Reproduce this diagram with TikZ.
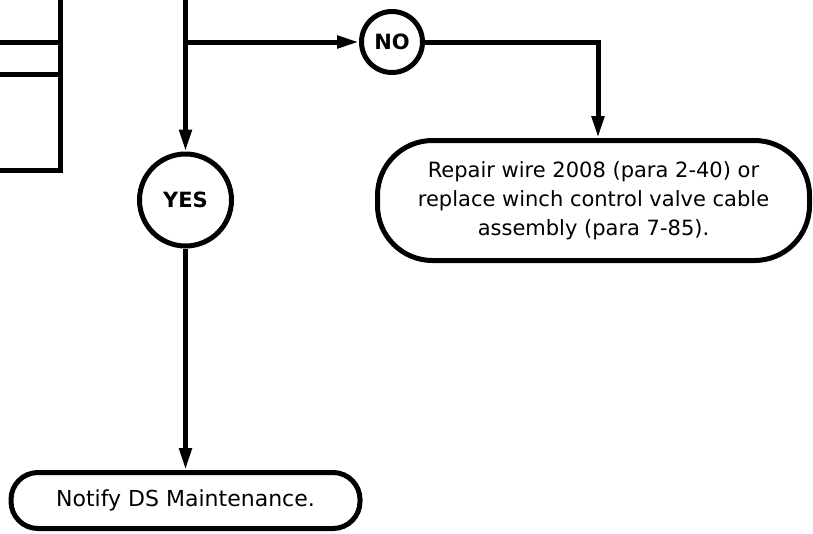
\documentclass[tikz,border=0pt]{standalone}
\usepackage{fontspec}
\setmainfont{DejaVu Sans}
\usetikzlibrary{arrows.meta}
\begin{document}
\begin{tikzpicture}[x=1pt,y=-1pt,
  line/.style={line width=5pt},
  arr/.style={line width=5pt, -{Triangle[length=22pt,width=12pt]}},
  decision/.style={circle, draw, line width=5pt, inner sep=0pt, font=\fontsize{21}{24}\selectfont\bfseries},
  terminal/.style={draw, line width=5pt, align=center, inner sep=0pt}
]
\useasboundingbox (0,0) rectangle (813,533);
% nodes
\node[decision, minimum size=61pt] (no) at (392,42) {NO};
\node[decision, minimum size=92pt] (yes) at (185.5,200) {YES};
\node[terminal, minimum width=432pt, minimum height=120pt, rounded corners=55pt,
      font=\fontsize{21}{29}\selectfont] (repair) at (593.5,200.5)
      {Repair wire 2008 (para 2-40) or\\replace winch control valve cable\\assembly (para 7-85).};
\node[terminal, minimum width=349pt, minimum height=56pt, rounded corners=27pt,
      font=\fontsize{22}{26}\selectfont] (notify) at (185.5,500.5) {Notify DS Maintenance.};
% coordinates
\coordinate (top) at (185.5,-5);
\coordinate (br) at (185.5,42);
\coordinate (rp) at (598,42);
% connectors
\draw[arr] (top) -- (yes);
\draw[arr] (br) -- (no);
\draw[arr] (no.east) -- (rp) -- (rp |- repair.north);
\draw[arr] (yes.south) -- (yes.south |- notify.north);
% partial box at left
\draw[line] (60,-5) -- (60,170) -- (-5,170);
\draw[line] (-5,42) -- (60,42);
\draw[line] (-5,74) -- (60,74);
\end{tikzpicture}
\end{document}
